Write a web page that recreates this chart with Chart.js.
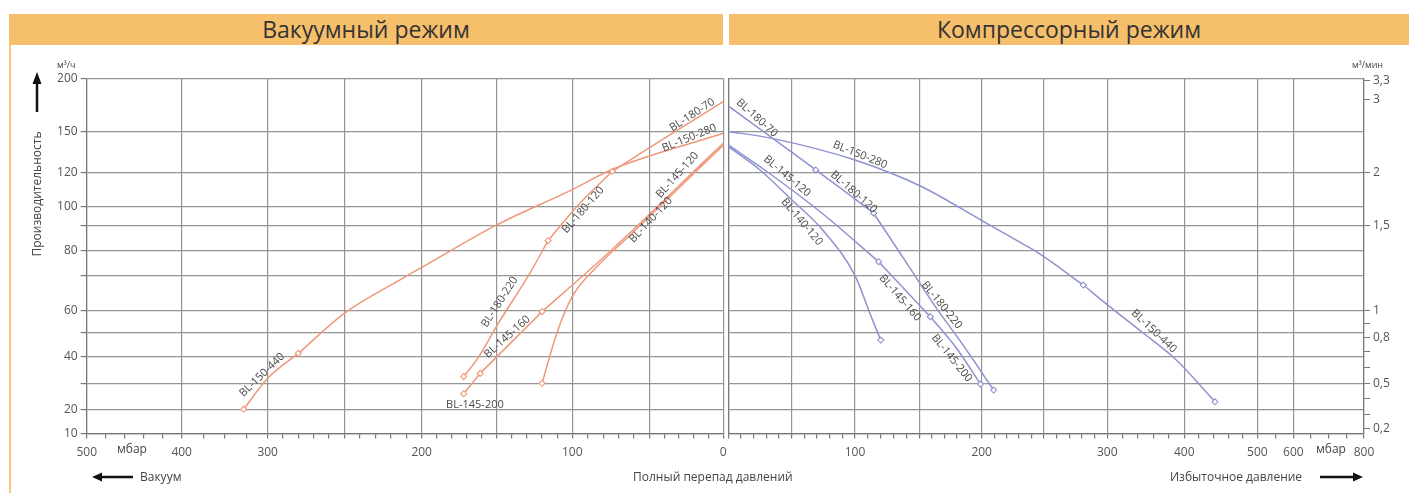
<!DOCTYPE html>
<html><head><meta charset="utf-8">
<script src="https://cdn.jsdelivr.net/npm/chart.js@4.4.1/dist/chart.umd.min.js"></script>
<style>
html,body{margin:0;padding:0;background:#fff;}
body{width:1409px;height:493px;position:relative;overflow:hidden;font-family:'Open Sans',sans-serif;}
.hdr{position:absolute;top:14px;height:31px;background:#F6BF6C;color:#333;font-size:23px;line-height:31px;text-align:center;}
#frame{position:absolute;left:9px;top:14px;width:2px;height:479px;background:#F6C77E;}
.t{position:absolute;font-size:12px;color:#444;white-space:nowrap;line-height:16px;}
.wrap{position:absolute;top:0;height:493px;}
svg{position:absolute;left:0;top:0;}
</style></head>
<body>
<div id="frame"></div>
<div class="hdr" style="left:9px;width:714px;">Вакуумный режим</div>
<div class="hdr" style="left:729px;width:680px;">Компрессорный режим</div>
<div class="wrap" style="left:0;width:730px;"><canvas id="c1" width="730" height="493"></canvas></div>
<div class="wrap" style="left:716px;width:693px;"><canvas id="c2" width="693" height="493"></canvas></div>

<div class="t" style="left:57px;top:57px;font-size:9px;">м³/ч</div>
<div class="t" style="left:1352px;top:57px;font-size:9px;">м³/мин</div>
<div class="t" style="left:-34px;top:186px;width:142px;text-align:center;transform:rotate(-90deg);font-size:12px;">Производительность</div>
<div class="t" style="left:117px;top:441px;">мбар</div>
<div class="t" style="left:1316px;top:441px;">мбар</div>
<div class="t" style="left:140px;top:469px;">Вакуум</div>
<div class="t" style="left:633px;top:469px;">Полный перепад давлений</div>
<div class="t" style="left:1170px;top:469px;">Избыточное давление</div>
<svg width="1409" height="493">
  <line x1="37" y1="112" x2="37" y2="82" stroke="#111" stroke-width="2.5"/>
  <polygon points="32.5,84 41.5,84 37,72" fill="#111"/>
  <line x1="133" y1="477" x2="100" y2="477" stroke="#111" stroke-width="2.5"/>
  <polygon points="92,477 102,472.5 102,481.5" fill="#111"/>
  <line x1="1320" y1="477" x2="1355" y2="477" stroke="#111" stroke-width="2.5"/>
  <polygon points="1363,477 1353,472.5 1353,481.5" fill="#111"/>
</svg>

<script>
// ---------- axis tick values ----------
const yTicks   = [10,20,30,40,50,60,70,80,90,100,120,150,200];
const yLabels  = [10,20,40,60,80,100,120,150,200];
const y2Ticks  = [0.2,0.3,0.4,0.5,0.6,0.7,0.8,0.9,1,1.5,2,3,3.3];
const y2Labels = [0.2,0.5,0.8,1,1.5,2,3,3.3];
const vacXTicks  = [0,10,20,30,40,50,60,70,80,90,100,110,120,130,140,150,160,170,180,190,200,210,220,230,240,250,260,270,280,290,300,325,350,375,400,420,440,460,480,500];
const vacXGrid   = [0,50,100,150,200,250,300,400,500];
const vacXLabels = [0,100,200,300,400,500];
const compXTicks  = [0,10,20,30,40,50,60,70,80,90,100,110,120,130,140,150,160,170,180,190,200,210,220,230,240,250,260,270,280,290,300,320,340,360,380,400,420,440,460,480,500,550,600,650,700,750,800];
const compXGrid   = [0,50,100,150,200,250,300,400,500,600,800];
const compXLabels = [100,200,300,400,500,600,800];

// ---------- vacuum mode (mbar, m3/h) ----------
const vacP_180_70  = [0, 40, 74];             const vacQ_180_70  = [178, 145, 121];
const vacP_180_120 = [74, 97, 116];           const vacQ_180_120 = [121, 100, 84];
const vacP_180_220 = [116, 129, 149, 163, 172]; const vacQ_180_220 = [84, 70, 54, 39, 32.5];
const vacP_150_280 = [0, 75, 100, 150, 195, 214, 250, 280]; const vacQ_150_280 = [148.7, 122, 110, 90.4, 75, 68.8, 58.6, 41.3];
const vacP_150_440 = [280, 300, 328];         const vacQ_150_440 = [41.3, 31.9, 20];
const vacP_145_120 = [0, 18, 40, 62, 84, 120]; const vacQ_145_120 = [141.5, 123, 103.7, 87.5, 75, 59.4];
const vacP_145_160 = [120, 161];              const vacQ_145_160 = [59.4, 33.7];
const vacP_145_200 = [161, 172];              const vacQ_145_200 = [33.7, 26];
const vacP_140_120 = [0, 18, 40, 62, 85, 100, 110, 120]; const vacQ_140_120 = [140, 121.5, 102.5, 86.5, 73, 64, 50, 30];

// ---------- compressor mode (mbar, m3/h) ----------
const cmpP_180_70  = [0, 37, 69];             const cmpQ_180_70  = [174, 143.8, 122];
const cmpP_180_120 = [69, 92, 114.5];         const cmpQ_180_120 = [122, 109, 96.5];
const cmpP_180_220 = [114.5, 142, 163, 184, 209.6]; const cmpQ_180_220 = [96.5, 73.6, 61, 45.5, 27.4];
const cmpP_150_280 = [0, 34.5, 100, 152, 200, 232, 246, 281]; const cmpQ_150_280 = [150, 145, 129.2, 111.7, 92.7, 83, 78.9, 67.3];
const cmpP_150_440 = [281, 303.5, 347, 390, 442]; const cmpQ_150_440 = [67.3, 61, 49.6, 38.6, 22.9];
const cmpP_145_120 = [0, 29, 74, 118.4];      const cmpQ_145_120 = [140.2, 121.8, 96.5, 75.6];
const cmpP_145_160 = [118.4, 158.8];          const cmpQ_145_160 = [75.6, 57.1];
const cmpP_145_200 = [158.8, 179, 199];       const cmpQ_145_200 = [57.1, 44, 29.7];
const cmpP_140_120 = [0, 25, 50, 75, 100, 112, 120]; const cmpQ_140_120 = [139, 122, 104, 88, 70, 58, 46.8];

const vacSeries = [
  ['BL-180-70', vacP_180_70, vacQ_180_70], ['BL-180-120', vacP_180_120, vacQ_180_120], ['BL-180-220', vacP_180_220, vacQ_180_220],
  ['BL-150-280', vacP_150_280, vacQ_150_280], ['BL-150-440', vacP_150_440, vacQ_150_440],
  ['BL-145-120', vacP_145_120, vacQ_145_120], ['BL-145-160', vacP_145_160, vacQ_145_160], ['BL-145-200', vacP_145_200, vacQ_145_200],
  ['BL-140-120', vacP_140_120, vacQ_140_120]
];
const cmpSeries = [
  ['BL-180-70', cmpP_180_70, cmpQ_180_70], ['BL-180-120', cmpP_180_120, cmpQ_180_120], ['BL-180-220', cmpP_180_220, cmpQ_180_220],
  ['BL-150-280', cmpP_150_280, cmpQ_150_280], ['BL-150-440', cmpP_150_440, cmpQ_150_440],
  ['BL-145-120', cmpP_145_120, cmpQ_145_120], ['BL-145-160', cmpP_145_160, cmpQ_145_160], ['BL-145-200', cmpP_145_200, cmpQ_145_200],
  ['BL-140-120', cmpP_140_120, cmpQ_140_120]
];

// curve labels: text, pressure, flow, angle
const vacCurveLabels = [
  ['BL-180-70', 21, 165.5, -33], ['BL-150-280', 23, 145.3, -22], ['BL-180-120', 93, 98.2, -49],
  ['BL-145-120', 31, 118.6, -48], ['BL-140-120', 49, 93, -47], ['BL-180-220', 148, 62.4, -57],
  ['BL-145-160', 143, 48.1, -42], ['BL-145-200', 164.5, 21.7, 0], ['BL-150-440', 306.6, 33.1, -44]
];
const cmpCurveLabels = [
  ['BL-180-70', 22.6, 162.7, 42], ['BL-150-280', 104, 133, 22], ['BL-145-120', 46.3, 118, 40],
  ['BL-180-120', 99, 108.6, 41], ['BL-140-120', 58, 92, 50], ['BL-145-160', 135, 63.6, 49],
  ['BL-180-220', 168, 61.5, 51], ['BL-145-200', 176, 39.4, 51], ['BL-150-440', 360.6, 50.5, 43]
];

// ---------- non-uniform axis definitions (value -> relative position) ----------
const yBreaks = [[10,0],[20,0.0681],[30,0.1413],[40,0.2168],[50,0.2849],[60,0.3468],[70,0.4443],[80,0.5146],[90,0.5850],[100,0.6391],[120,0.7342],[150,0.8502],[200,1]];
const y2Breaks = yBreaks.map(([v, f]) => [v / 60, f]);
const vacXBreaks = [[0,1],[50,0.8838],[100,0.7628],[150,0.6440],[200,0.5262],[250,0.4047],[300,0.2843],[400,0.1492],[500,0]];
const compXBreaks = [[0,0],[50,0.0997],[100,0.1993],[150,0.3005],[200,0.3986],[250,0.4966],[300,0.5962],[400,0.7173],[500,0.8322],[600,0.8888],[800,1]];

function interp(b, v, from, to) {
  let i = 0;
  while (i < b.length - 2 && v > b[i + 1][from]) i++;
  const a = b[i], c = b[i + 1];
  return a[to] + (v - a[from]) / (c[from] - a[from]) * (c[to] - a[to]);
}
class PiecewiseScale extends Chart.LinearScale {
  getPixelForValue(value) {
    if (value === null || value === undefined || isNaN(value)) return NaN;
    return this.getPixelForDecimal(interp(this.options.breaks, value, 0, 1));
  }
  getValueForPixel(pixel) {
    const inv = this.options.breaks.slice().sort((a, b) => a[1] - b[1]);
    return interp(inv, this.getDecimalForPixel(pixel), 1, 0);
  }
  buildTicks() { return this.options.tickValues.map(v => ({ value: v })); }
}
PiecewiseScale.id = 'piecewise';
PiecewiseScale.defaults = {};
Chart.register(PiecewiseScale);

Chart.defaults.font.family = "'Open Sans', sans-serif";
const GRID = '#959595', AXIS = '#777', TICKC = '#555';
const VAC_C = '#EE9878', CMP_C = '#8E92D0';

function mkDatasets(series, color) {
  return series.map(([name, p, q]) => ({
    label: name,
    data: p.map((x, i) => ({ x, y: q[i] })),
    borderColor: color, borderWidth: 1.5, cubicInterpolationMode: 'monotone', fill: false,
    pointRadius: ctx => (ctx.dataIndex === p.length - 1 ? 3 : 0),
    pointStyle: 'rectRot', pointBorderColor: color, pointBackgroundColor: '#fff', pointBorderWidth: 1.1
  }));
}
function labelPlugin(items) {
  return {
    id: 'curveLabels',
    afterDatasetsDraw(chart) {
      const { ctx } = chart, xs = chart.scales.x, ys = chart.scales.y;
      ctx.save();
      ctx.font = "11px 'Open Sans', sans-serif"; ctx.fillStyle = '#4a4a4a';
      ctx.textAlign = 'center'; ctx.textBaseline = 'middle';
      for (const [t, x, y, a] of items) {
        ctx.save();
        ctx.translate(xs.getPixelForValue(x), ys.getPixelForValue(y));
        ctx.rotate(a * Math.PI / 180);
        ctx.fillText(t, 0, 0);
        ctx.restore();
      }
      ctx.restore();
    }
  };
}
const tickFont = { size: 12 };
function xAxis(breaks, ticks, grid, labels, max) {
  return {
    type: 'piecewise', position: 'bottom', min: 0, max, breaks, tickValues: ticks,
    ticks: { autoSkip: false, maxRotation: 0, minRotation: 0, padding: 7, font: tickFont, color: TICKC,
             callback: v => (labels.includes(v) ? String(v) : '') },
    grid: { color: c => (c.tick && grid.includes(c.tick.value) ? GRID : 'rgba(0,0,0,0)'), lineWidth: 1.2, tickColor: AXIS, tickLength: 5 },
    border: { color: AXIS, width: 1.2 },
    afterFit: s => { s.height = 59.5; s.paddingLeft = 0; s.paddingRight = 0; }
  };
}
const yAxisLeft = {
  type: 'piecewise', position: 'left', min: 10, max: 200, breaks: yBreaks, tickValues: yTicks,
  ticks: { autoSkip: false, padding: 3, font: tickFont, color: TICKC, callback: v => (yLabels.includes(v) ? String(v) : '') },
  grid: { color: GRID, lineWidth: 1.2, tickColor: AXIS, tickLength: 6 },
  border: { color: AXIS, width: 1.2 },
  afterFit: s => { s.width = 86.7; s.paddingTop = 0; s.paddingBottom = 0; }
};

new Chart(document.getElementById('c1'), {
  type: 'line',
  data: { datasets: mkDatasets(vacSeries, VAC_C) },
  options: {
    responsive: false, animation: false, events: [],
    layout: { padding: { top: 78.3, right: 6.7, left: 0, bottom: 0 } },
    plugins: { legend: { display: false }, tooltip: { enabled: false } },
    scales: { x: xAxis(vacXBreaks, vacXTicks, vacXGrid, vacXLabels, 500), y: yAxisLeft }
  },
  plugins: [labelPlugin(vacCurveLabels)]
});

new Chart(document.getElementById('c2'), {
  type: 'line',
  data: { datasets: mkDatasets(cmpSeries, CMP_C) },
  options: {
    responsive: false, animation: false, events: [],
    layout: { padding: { top: 78.3, right: 0, left: 12.3, bottom: 0 } },
    plugins: { legend: { display: false }, tooltip: { enabled: false } },
    scales: {
      x: xAxis(compXBreaks, compXTicks, compXGrid, compXLabels, 800),
      y: {
        type: 'piecewise', position: 'left', min: 10, max: 200, breaks: yBreaks, tickValues: yTicks,
        ticks: { display: false },
        grid: { color: GRID, lineWidth: 1.2, drawTicks: false },
        border: { color: AXIS, width: 1.2 },
        afterFit: s => { s.width = 0; s.paddingTop = 0; s.paddingBottom = 0; }
      },
      y2: {
        type: 'piecewise', position: 'right', min: 10 / 60, max: 200 / 60, breaks: y2Breaks, tickValues: y2Ticks,
        ticks: { autoSkip: false, padding: 3, font: tickFont, color: TICKC,
                 callback: v => (y2Labels.includes(v) ? String(v).replace('.', ',') : '') },
        grid: { drawOnChartArea: false, tickColor: AXIS, tickLength: 6 },
        border: { color: AXIS, width: 1.2 },
        afterFit: s => { s.width = 45; s.paddingTop = 0; s.paddingBottom = 0; }
      }
    }
  },
  plugins: [labelPlugin(cmpCurveLabels)]
});
</script>
</body></html>
